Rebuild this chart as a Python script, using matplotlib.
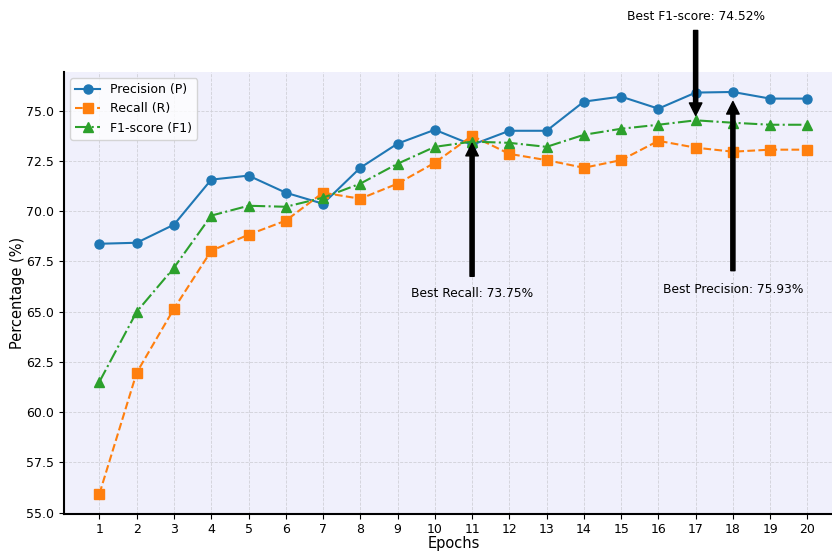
import matplotlib
matplotlib.use('Agg')
import matplotlib.pyplot as plt

epochs = list(range(1, 21))
precision = [68.38, 68.43, 69.33, 71.57, 71.77, 70.92, 70.37, 72.16, 73.36, 74.05,
             73.30, 74.00, 74.00, 75.45, 75.70, 75.10, 75.90, 75.93, 75.60, 75.60]
recall = [55.95, 61.97, 65.15, 68.03, 68.83, 69.53, 70.92, 70.62, 71.37, 72.41,
          73.75, 72.85, 72.54, 72.16, 72.54, 73.50, 73.16, 72.96, 73.06, 73.06]
f1 = [61.52, 65.00, 67.19, 69.78, 70.27, 70.22, 70.67, 71.37, 72.36, 73.20,
      73.46, 73.40, 73.20, 73.80, 74.10, 74.30, 74.52, 74.40, 74.30, 74.30]

fig = plt.figure(figsize=(8.32, 5.53), dpi=100)
ax = fig.add_axes([0.077, 0.071, 0.936, 0.799])
ax.set_facecolor('#f0f0fc')

ax.plot(epochs, precision, '-o', color='#1f77b4', lw=1.5, ms=6.5, label='Precision (P)')
ax.plot(epochs, recall, '--s', color='#ff7f0e', lw=1.5, ms=6.5, label='Recall (R)')
ax.plot(epochs, f1, '-.^', color='#2ca02c', lw=1.5, ms=6.5, label='F1-score (F1)')

# best values
i_p = precision.index(max(precision))
i_r = recall.index(max(recall))
i_f = f1.index(max(f1))
arrow = dict(facecolor='black', edgecolor='black', shrink=0.05, width=3, headwidth=9, headlength=9)
ax.annotate(f'Best Precision: {precision[i_p]:.2f}%', xy=(epochs[i_p], precision[i_p]),
            xytext=(epochs[i_p], precision[i_p] - 10), ha='center', fontsize=8.8,
            arrowprops=arrow)
ax.annotate(f'Best Recall: {recall[i_r]:.2f}%', xy=(epochs[i_r], recall[i_r]),
            xytext=(epochs[i_r], recall[i_r] - 8), ha='center', fontsize=8.8,
            arrowprops=arrow)
ax.annotate(f'Best F1-score: {f1[i_f]:.2f}%', xy=(epochs[i_f], f1[i_f]),
            xytext=(epochs[i_f], f1[i_f] + 5), ha='center', fontsize=8.8,
            arrowprops=arrow, annotation_clip=False)

ax.set_xticks(epochs)
ax.set_yticks([55 + 2.5 * k for k in range(9)])
ax.tick_params(labelsize=9)
ax.set_xlabel('Epochs', fontsize=10.5, labelpad=0)
ax.set_ylabel('Percentage (%)', fontsize=10.5, labelpad=1)
ax.grid(True, linestyle='--', color='#d0d0d8', lw=0.6)
ax.spines['top'].set_visible(False)
ax.spines['right'].set_visible(False)
ax.spines['left'].set_linewidth(1.5)
ax.spines['bottom'].set_linewidth(1.5)
ax.legend(loc='upper left', fontsize=9)

fig.savefig('out.png', dpi=100)
